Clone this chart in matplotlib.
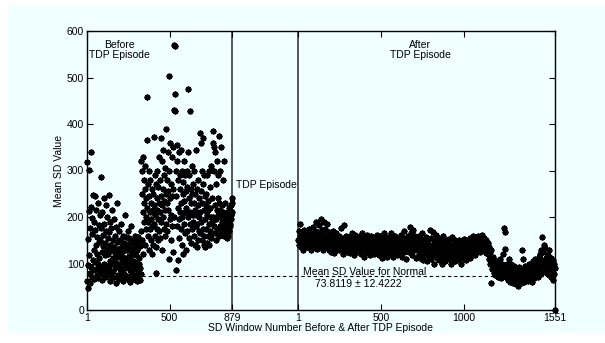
import matplotlib
matplotlib.use("Agg")
import matplotlib.pyplot as plt
from matplotlib.patches import Rectangle
import numpy as np

plt.rcParams['font.family'] = ['Liberation Sans', 'DejaVu Sans']

# ---------------- data ----------------
# Before TDP episode: window numbers 1,3,5,...,879 (every other window read)
before_y = [
    62, 318, 48, 152, 96, 302, 212, 118, 80, 176, 58, 222, 340, 92, 198, 72, 164, 108, 248, 86,
    130, 190, 66, 245, 104, 172, 88, 140, 215, 75, 158, 120, 98, 230, 68, 182, 112, 146, 84, 205,
    150, 286, 92, 176, 124, 64, 210, 138, 78, 162, 240, 100, 186, 70, 144, 118, 226, 86, 170, 132,
    95, 200, 76, 154, 120, 248, 88, 168, 106, 62, 190, 140, 80, 128, 176, 98, 215, 72, 150, 112,
    84, 136, 196, 70, 160, 104, 122, 58, 178, 92, 146, 114, 230, 76, 132, 100, 170, 66, 124, 88,
    150, 94, 118, 72, 186, 108, 138, 82, 160, 62, 126, 100, 145, 78, 205, 112, 90, 134, 68, 156,
    102, 128, 74, 170, 96, 142, 64, 116, 154, 86, 110, 60, 132, 98, 180, 80, 122, 144, 70, 106,
    120, 90, 150, 66, 136, 104, 160, 76, 118, 94, 142, 62, 128, 84, 156, 72, 112, 100, 148, 64,
    90, 138, 78, 320, 170, 300, 250, 150, 210, 330, 120, 280, 230, 190, 260, 140, 310, 200, 240, 175,
    457, 365, 220, 160, 270, 190, 300, 130, 245, 210, 175, 280, 150, 230, 195, 120, 260, 180, 215, 140,
    250, 185, 372, 225, 160, 290, 205, 135, 270, 80, 240, 175, 300, 215, 150, 265, 195, 330, 230, 170,
    280, 210, 155, 370, 245, 190, 320, 225, 130, 260, 200, 345, 175, 235, 290, 160, 215, 305, 185, 250,
    390, 230, 280, 170, 340, 215, 255, 110, 300, 503, 195, 360, 240, 150, 270, 205, 330, 180, 245, 125,
    350, 260, 200, 430, 570, 567, 465, 428, 300, 86, 245, 355, 180, 320, 220, 107, 280, 195, 340, 155,
    260, 210, 290, 175, 345, 230, 140, 300, 200, 250, 120, 275, 185, 320, 235, 165, 290, 210, 130, 255,
    220, 300, 170, 265, 200, 340, 475, 240, 155, 290, 210, 428, 185, 260, 145, 230, 310, 175, 250, 205,
    270, 190, 230, 160, 300, 215, 140, 250, 180, 345, 205, 135, 260, 185, 225, 150, 280, 200, 170, 240,
    380, 210, 165, 255, 360, 190, 300, 150, 230, 370, 175, 270, 140, 215, 290, 160, 245, 195, 135, 225,
    250, 175, 205, 145, 290, 215, 160, 235, 185, 300, 140, 220, 265, 170, 200, 155, 310, 190, 240, 165,
    385, 360, 200, 350, 180, 300, 225, 165, 340, 195, 270, 150, 215, 320, 175, 240, 205, 290, 160, 230,
    375, 180, 215, 300, 165, 200, 350, 175, 225, 190, 280, 170, 210, 185, 320, 160, 195, 230, 178, 205,
    165, 185, 155, 200, 175, 210, 160, 190, 220, 170, 200, 185, 215, 180, 225, 195, 205, 230, 210, 240,
]

# After TDP episode: window numbers 1,4,7,...,1549 (every third window read)
after_y = [
    150, 170, 140, 160, 185, 135, 155, 145, 165, 130, 158, 148, 172, 138, 162, 150, 142, 168, 135, 155,
    160, 145, 175, 138, 152, 165, 130, 158, 148, 178, 142, 162, 136, 170, 150, 190, 145, 160, 132, 168,
    155, 182, 140, 165, 150, 195, 138, 172, 148, 160, 128, 190, 152, 145, 175, 136, 162, 150, 185, 142,
    158, 130, 168, 145, 152, 125, 160, 140, 148, 170, 135, 150, 122, 158, 142, 165, 130, 148, 138, 155,
    145, 128, 160, 138, 150, 176, 132, 148, 142, 120, 155, 138, 182, 145, 130, 160, 140, 125, 150, 135,
    148, 130, 158, 140, 122, 152, 136, 165, 128, 145, 140, 118, 155, 132, 162, 138, 150, 125, 145, 135,
    152, 128, 142, 160, 135, 120, 148, 138, 165, 130, 145, 115, 155, 140, 128, 150, 135, 162, 125, 145,
    138, 155, 130, 148, 118, 142, 160, 132, 150, 125, 140, 158, 135, 120, 152, 138, 145, 128, 162, 140,
    132, 150, 118, 145, 138, 160, 125, 148, 135, 112, 155, 140, 130, 165, 122, 145, 138, 150, 115, 142,
    135, 158, 128, 145, 120, 150, 138, 165, 130, 142, 115, 155, 135, 148, 125, 160, 140, 132, 118, 150,
    142, 130, 155, 120, 148, 138, 162, 128, 145, 115, 150, 135, 170, 125, 148, 140, 110, 155, 132, 145,
    138, 160, 125, 150, 178, 140, 130, 165, 118, 152, 142, 172, 128, 148, 135, 160, 112, 145, 138, 155,
    130, 148, 120, 160, 138, 112, 152, 140, 125, 165, 135, 108, 150, 128, 145, 118, 158, 132, 105, 142,
    125, 150, 115, 140, 172, 130, 110, 155, 135, 120, 168, 128, 145, 100, 138, 150, 118, 162, 130, 112,
    145, 125, 138, 108, 155, 130, 118, 148, 135, 100, 142, 125, 160, 115, 138, 128, 105, 150, 122, 135,
    118, 145, 130, 110, 152, 125, 140, 98, 135, 120, 158, 128, 112, 145, 132, 105, 150, 125, 138, 115,
    142, 120, 132, 108, 150, 128, 115, 138, 100, 145, 125, 135, 112, 152, 130, 118, 140, 108, 148, 125,
    135, 118, 150, 128, 140, 112, 155, 132, 122, 148, 138, 160, 125, 145, 135, 118, 152, 140, 128, 158,
    145, 132, 160, 138, 150, 125, 155, 142, 135, 162, 130, 148, 140, 155, 128, 145, 138, 150, 122, 140,
    132, 145, 120, 135, 110, 125, 98, 130, 58, 105, 88, 115, 95, 80, 108, 90, 75, 100, 85, 95,
    82, 105, 72, 95, 88, 110, 76, 92, 68, 100, 85, 120, 78, 95, 176, 168, 131, 88, 70, 98,
    80, 92, 65, 86, 110, 74, 90, 60, 82, 100, 70, 88, 58, 78, 95, 66, 84, 72, 55, 90,
    68, 85, 52, 76, 92, 62, 80, 70, 88, 58, 75, 129, 65, 110, 82, 60, 95, 72, 86, 64,
    78, 92, 62, 85, 70, 100, 66, 88, 75, 95, 60, 82, 105, 72, 90, 68, 84, 110, 76, 96,
    88, 105, 72, 98, 115, 82, 120, 95, 78, 130, 108, 157, 90, 125, 100, 140, 85, 133, 112, 96,
    105, 80, 118, 92, 128, 75, 100, 88, 112, 70, 95, 82, 108, 65, 98, 78, 90,
]
after_last_window = [1551]
after_last_y = [0]

n_before = 879
n_after = 1551
gap = 399                    # axis units reserved for the TDP episode
normal_mean = 73.8119
normal_std = 12.4222

x_tick_labels = ['1', '500', '879', '1', '500', '1000', '1551']
y_ticks = [0, 100, 200, 300, 400, 500, 600]

# ---------------- positions ----------------
before_x = np.arange(1, n_before + 1, 2)[:len(before_y)]
offset = n_before + gap      # after window j -> offset + j
after_x = offset + np.arange(1, n_after + 1, 3)[:len(after_y)]
last_x = offset + np.array(after_last_window)

# ---------------- figure ----------------
W, H = 605, 343
fig = plt.figure(figsize=(W / 100, H / 100), dpi=100, facecolor='white')
bg = '#F0FFFF'
fig.patches.append(Rectangle((8 / W, 10 / H), 1 - 8 / W, 1 - 15 / H, transform=fig.transFigure,
                             facecolor=bg, edgecolor='none', zorder=-10))
ax = fig.add_axes([87 / W, 33 / H, 468 / W, 279 / H])
ax.set_facecolor(bg)

xmax = offset + n_after
ax.set_xlim(1, xmax)
ax.set_ylim(0, 600)

ax.axhline(normal_mean, color='black', lw=0.8, ls=(0, (3, 2.5)), zorder=1)
ax.axvline(n_before, color='#555555', lw=1.4, zorder=1)
ax.axvline(offset + 1, color='#555555', lw=1.4, zorder=1)

mk = dict(ls='none', marker=(8, 2, 0), ms=4.2, mfc='black', mec='black', mew=1.3,
          zorder=3, clip_on=False)
ax.plot(before_x, before_y, **mk)
ax.plot(after_x, after_y, **mk)
ax.plot(last_x, after_last_y, **mk)

xt = [1, 500, n_before, offset + 1, offset + 500, offset + 1000, offset + n_after]
ax.set_xticks(xt)
ax.set_xticklabels(x_tick_labels)
ax.set_yticks(y_ticks)
ax.tick_params(direction='in', length=4, width=0.8, top=True, right=True,
               labelsize=7.5, pad=2, colors='black')
for s in ax.spines.values():
    s.set_linewidth(1.0)

fs = 7.5
ax.text(200, 559, 'Before\nTDP Episode', ha='center', va='center', fontsize=fs, linespacing=1.1)
ax.text(2013, 559, 'After\nTDP Episode', ha='center', va='center', fontsize=fs, linespacing=1.1)
ax.text(901, 269, 'TDP Episode', ha='left', va='center', fontsize=fs)
ax.text(1306, 82, 'Mean SD Value for Normal', ha='left', va='center', fontsize=fs)
ax.text(1638, 56, f'{normal_mean:.4f} \u00b1 {normal_std:.4f}', ha='center', va='center', fontsize=fs)

ax.set_xlabel('SD Window Number Before & After TDP Episode', fontsize=fs, labelpad=0)
ax.set_ylabel('Mean SD Value', fontsize=fs, labelpad=2)

fig.savefig('out.png', dpi=100, facecolor=fig.get_facecolor())
